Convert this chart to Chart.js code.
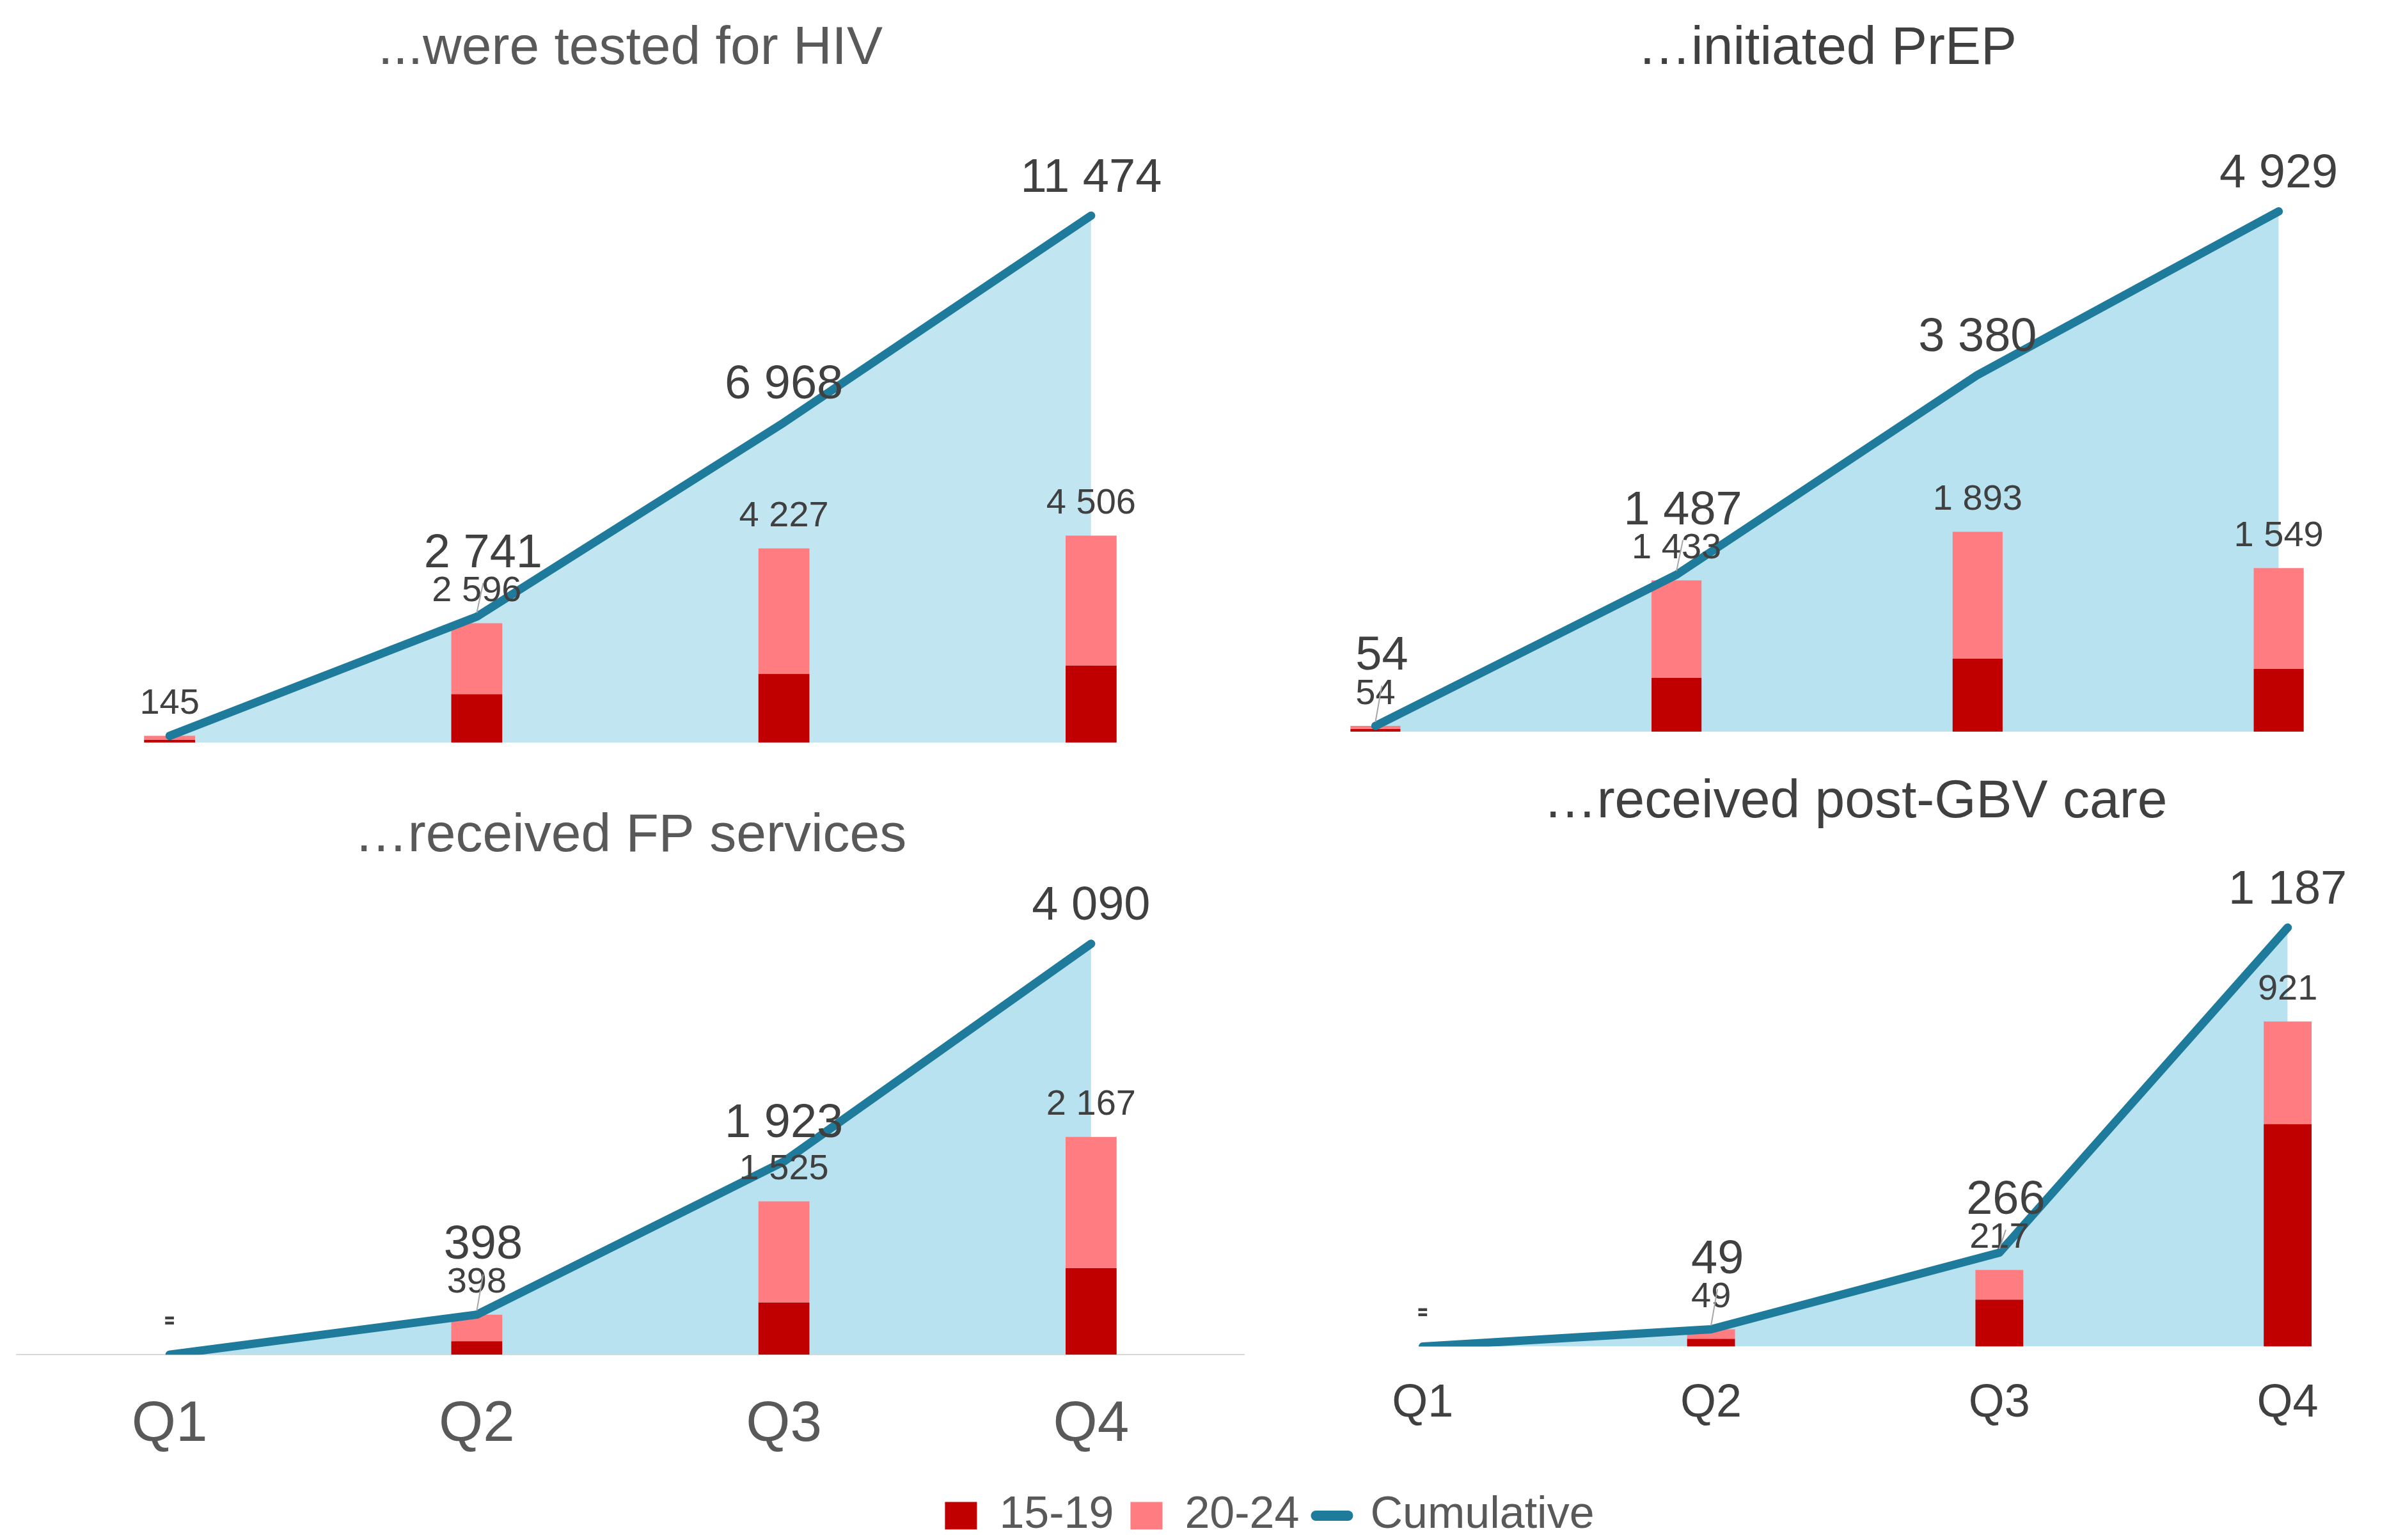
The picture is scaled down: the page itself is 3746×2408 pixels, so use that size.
<!DOCTYPE html>
<html>
<head>
<meta charset="utf-8">
<script src="https://cdn.jsdelivr.net/npm/chart.js@4.4.1/dist/chart.umd.min.js"></script>
<style>
  html, body { margin: 0; padding: 0; background: #fff; width: 3746px; height: 2408px; overflow: hidden; }
  canvas { position: absolute; }
</style>
</head>
<body>
<canvas id="hivChart" width="1921" height="1161" style="left:25px;top:0px"></canvas>
<canvas id="prepChart" width="1883" height="1144" style="left:1915px;top:0px"></canvas>
<canvas id="fpChart" width="1921" height="1108" style="left:25px;top:1231px"></canvas>
<canvas id="gbvChart" width="1803" height="1106" style="left:1999px;top:1178px"></canvas>
<canvas id="legendChart" width="1200" height="300" style="left:1385px;top:2309px"></canvas>
<script>
// quarters
const quarters = ['Q1', 'Q2', 'Q3', 'Q4'];

// were tested for HIV
const hiv1519 = [55, 1050, 1493, 1675];
const hiv2024 = [90, 1546, 2734, 2831];
const hivCum = [145, 2741, 6968, 11474];

// initiated PrEP
const prep1519 = [24, 509, 691, 594];
const prep2024 = [30, 924, 1202, 955];
const prepCum = [54, 1487, 3380, 4929];

// received FP services
const fp1519 = [0, 133, 519, 861];
const fp2024 = [0, 265, 1006, 1306];
const fpCum = [0, 398, 1923, 4090];

// received post-GBV care
const gbv1519 = [0, 22, 133, 630];
const gbv2024 = [0, 27, 84, 291];
const gbvCum = [0, 49, 266, 1187];

const DARK_RED = '#C00000';
const PINK = '#FF7C80';
const TEAL = '#1F7B9B';
const FONT = "'Liberation Sans', Arial, sans-serif";

Chart.defaults.font.family = FONT;

// 11474 -> "11 474", 0 -> "-"
function fmt(v) {
    if (!v) return '-';
    return String(v).replace(/\B(?=(\d{3})+(?!\d))/g, ' ');
}

// labels over the stacks and over the cumulative line
const valueLabels = {
    id: 'valueLabels',
    afterDatasetsDraw(chart, args, opts) {
        const ctx = chart.ctx;
        const ds = chart.data.datasets;
        const young = chart.getDatasetMeta(0);
        const older = chart.getDatasetMeta(1);
        const line = chart.getDatasetMeta(2);
        ctx.save();
        ctx.textAlign = 'center';
        ctx.textBaseline = 'middle';
        ctx.fillStyle = '#404040';
        older.data.forEach((bar, i) => {
            const total = ds[0].data[i] + ds[1].data[i];
            const top = Math.min(bar.y, young.data[i].y);
            ctx.font = '56px ' + FONT;
            ctx.fillText(fmt(total), bar.x, top - (total ? 50 : 58));
            if ((opts.skipCum || []).includes(i)) return;
            const pt = line.data[i];
            const cum = ds[2].data[i];
            if (!cum) {
                ctx.fillText('-', pt.x, pt.y - 50);
                return;
            }
            // label pushed up when it would sit on the bar label
            const gap = top - pt.y;
            const near = gap < 40;
            const lift = near ? Math.max(74, 108 - gap) : 58;
            const dx = near ? 10 : 0;
            if (near) {
                ctx.strokeStyle = '#A6A6A6';
                ctx.lineWidth = 2;
                ctx.beginPath();
                ctx.moveTo(pt.x, pt.y - 6);
                ctx.lineTo(pt.x + dx, pt.y - lift + 45);
                ctx.stroke();
            }
            ctx.font = '74px ' + FONT;
            ctx.fillText(fmt(cum), pt.x + dx, pt.y - lift);
        });
        ctx.restore();
    }
};

function panel(id, cfg) {
    return new Chart(document.getElementById(id).getContext('2d'), {
        type: 'bar',
        data: {
            labels: quarters,
            datasets: [
                { label: '15-19', data: cfg.young, backgroundColor: DARK_RED, stack: 'age', order: 1,
                  barPercentage: 0.166, categoryPercentage: 1 },
                { label: '20-24', data: cfg.older, backgroundColor: PINK, stack: 'age', order: 1,
                  barPercentage: 0.166, categoryPercentage: 1 },
                { type: 'line', label: 'Cumulative', data: cfg.cum, borderColor: TEAL, borderWidth: 13,
                  borderCapStyle: 'round', borderJoinStyle: 'round', pointRadius: 0, tension: 0,
                  fill: false, stack: 'cum', order: 0 },
                { type: 'line', label: 'area', data: cfg.cum, backgroundColor: cfg.area, borderWidth: 0,
                  pointRadius: 0, tension: 0, fill: 'origin', stack: 'area', order: 2 }
            ]
        },
        options: {
            responsive: false,
            animation: false,
            layout: { padding: 0 },
            plugins: {
                legend: { display: false },
                tooltip: { enabled: false },
                title: {
                    display: true,
                    text: cfg.title,
                    color: cfg.titleColor,
                    font: { size: 84, weight: 'normal' },
                    padding: { top: 26, bottom: cfg.titleGap }
                },
                valueLabels: { skipCum: cfg.skipCum }
            },
            scales: {
                x: {
                    stacked: true,
                    display: cfg.ticks ? true : false,
                    grid: { display: false, drawTicks: false },
                    border: { display: !!cfg.axisLine, color: '#D9D9D9', width: 2 },
                    ticks: cfg.ticks || {}
                },
                y: { stacked: true, display: false, min: 0, max: cfg.yMax }
            }
        },
        plugins: [valueLabels]
    });
}

panel('hivChart', {
    title: '...were tested for HIV', titleColor: '#595959', titleGap: 29, yMax: 14000,
    young: hiv1519, older: hiv2024, cum: hivCum, area: '#C2E6F1', skipCum: [0]
});

panel('prepChart', {
    title: '\u2026initiated PrEP', titleColor: '#404040', titleGap: 27, yMax: 6000,
    young: prep1519, older: prep2024, cum: prepCum, area: '#B8E2F0'
});

panel('fpChart', {
    title: '\u2026received FP services', titleColor: '#595959', titleGap: 22, yMax: 4700,
    young: fp1519, older: fp2024, cum: fpCum, area: '#B8E2F0', axisLine: true,
    ticks: { color: '#595959', font: { size: 89 }, padding: 57 }
});

panel('gbvChart', {
    title: '\u2026received post-GBV care', titleColor: '#404040', titleGap: 28, yMax: 1400,
    young: gbv1519, older: gbv2024, cum: gbvCum, area: '#B8E2F0',
    ticks: { color: '#404040', font: { size: 72 }, padding: 46 }
});

// shared legend
new Chart(document.getElementById('legendChart').getContext('2d'), {
    type: 'bar',
    data: {
        labels: [],
        datasets: [
            { label: '15-19', data: [], backgroundColor: DARK_RED, pointStyle: 'rect' },
            { label: '20-24', data: [], backgroundColor: PINK, pointStyle: 'rect' },
            { type: 'line', label: 'Cumulative', data: [], borderColor: TEAL, borderWidth: 16,
              pointBorderColor: TEAL, pointBorderWidth: 16, pointStyle: 'line' }
        ]
    },
    options: {
        responsive: false,
        animation: false,
        scales: { x: { display: false }, y: { display: false } },
        plugins: {
            tooltip: { enabled: false },
            legend: {
                position: 'top',
                labels: {
                    usePointStyle: true,
                    pointStyleWidth: 50,
                    boxHeight: 43,
                    padding: 26,
                    color: '#595959',
                    font: { size: 70 },
                    generateLabels(chart) {
                        const items = Chart.defaults.plugins.legend.labels.generateLabels(chart);
                        items.forEach(it => { if (it.pointStyle === 'line') it.lineCap = 'round'; });
                        return items;
                    }
                }
            }
        }
    }
});
</script>
</body>
</html>
